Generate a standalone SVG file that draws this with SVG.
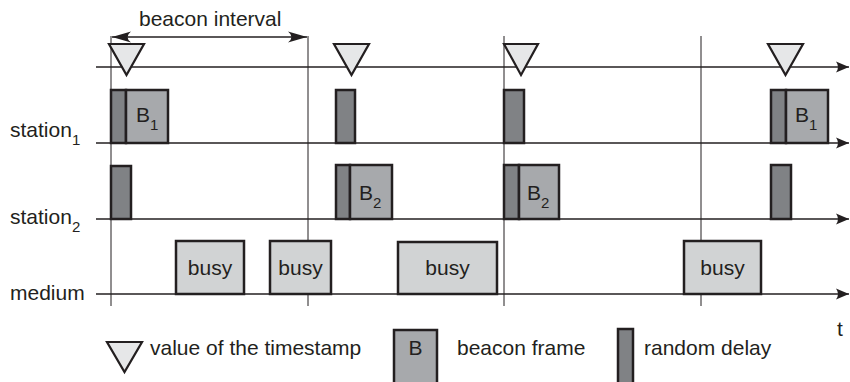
<svg xmlns="http://www.w3.org/2000/svg" width="850" height="382" viewBox="0 0 850 382">
<defs>
<style>
text{font-family:"Liberation Sans",Arial,sans-serif;font-size:21px;fill:#231f20}
.sub{font-size:15px}
.axis{stroke:#231f20;stroke-width:1.4;fill:none}
.vline{stroke:#231f20;stroke-width:1;fill:none}
.delay{fill:#808285;stroke:#231f20;stroke-width:2.5}
.beacon{fill:#a7a9ac;stroke:#231f20;stroke-width:2.5}
.busy{fill:#d1d3d4;stroke:#231f20;stroke-width:2.5}
.ts{fill:#e6e7e8;stroke:#231f20;stroke-width:2.2;stroke-linejoin:miter}
</style>
<marker id="ah" viewBox="0 0 14 12" refX="13" refY="6" markerWidth="14" markerHeight="12" markerUnits="userSpaceOnUse" orient="auto-start-reverse">
<path d="M0,0.5 L13,6 L0,11.5 Q4,6 0,0.5 Z" fill="#231f20"/>
</marker>
<marker id="ah2" viewBox="0 0 20 12" refX="19" refY="6" markerWidth="20" markerHeight="12" markerUnits="userSpaceOnUse" orient="auto-start-reverse">
<path d="M0,0.5 L19,6 L0,11.5 Q7,6 0,0.5 Z" fill="#231f20"/>
</marker>
</defs>

<g id="grid">
<line class="vline" x1="111" y1="36" x2="111" y2="306"/>
<line class="vline" x1="308" y1="36" x2="308" y2="306"/>
<line class="vline" x1="504" y1="36" x2="504" y2="306"/>
<line class="vline" x1="701" y1="36" x2="701" y2="306"/>
</g>

<g id="connectors">
<line class="axis" x1="96" y1="67" x2="849" y2="67" marker-end="url(#ah)"/>
<line class="axis" x1="96" y1="143" x2="849" y2="143" marker-end="url(#ah)"/>
<line class="axis" x1="96" y1="219" x2="849" y2="219" marker-end="url(#ah)"/>
<line class="axis" x1="96" y1="294" x2="849" y2="294" marker-end="url(#ah)"/>
<line class="axis" x1="112" y1="37" x2="307" y2="37" marker-start="url(#ah2)" marker-end="url(#ah2)"/>
</g>

<g id="labels">
<text x="139" y="26">beacon interval</text>
<text x="10" y="137">station<tspan class="sub" dy="8">1</tspan></text>
<text x="10" y="224">station<tspan class="sub" dy="8">2</tspan></text>
<text x="10" y="300">medium</text>
<text x="837" y="336">t</text>
</g>

<g id="timestamps">
<polygon class="ts" points="109,44 144,44 126.5,75"/>
<polygon class="ts" points="334,44 369,44 351.5,75"/>
<polygon class="ts" points="504,44 538,44 521,75"/>
<polygon class="ts" points="768,44 803,44 785.5,75"/>
</g>

<g id="station1">
<rect class="delay" x="111" y="90" width="15" height="53"/>
<rect class="beacon" x="126" y="90" width="42" height="53"/>
<text x="136" y="122">B<tspan class="sub" dy="8">1</tspan></text>
<rect class="delay" x="336" y="90" width="19" height="53"/>
<rect class="delay" x="504" y="90" width="20" height="53"/>
<rect class="delay" x="771" y="90" width="15" height="53"/>
<rect class="beacon" x="786" y="90" width="42" height="53"/>
<text x="795" y="122">B<tspan class="sub" dy="8">1</tspan></text>
</g>

<g id="station2">
<rect class="delay" x="111" y="166" width="20" height="53"/>
<rect class="delay" x="336" y="165" width="14" height="54"/>
<rect class="beacon" x="350" y="165" width="42" height="54"/>
<text x="359" y="200">B<tspan class="sub" dy="8">2</tspan></text>
<rect class="delay" x="504" y="165" width="15" height="54"/>
<rect class="beacon" x="519" y="165" width="40" height="54"/>
<text x="527" y="200">B<tspan class="sub" dy="8">2</tspan></text>
<rect class="delay" x="771" y="165" width="20" height="54"/>
</g>

<g id="medium">
<rect class="busy" x="176" y="241" width="68" height="53"/>
<text x="210" y="275" text-anchor="middle">busy</text>
<rect class="busy" x="270" y="241" width="61" height="53"/>
<text x="300.5" y="275" text-anchor="middle">busy</text>
<rect class="busy" x="398" y="242" width="99" height="52"/>
<text x="447.5" y="275" text-anchor="middle">busy</text>
<rect class="busy" x="684" y="241" width="77" height="53"/>
<text x="722.5" y="275" text-anchor="middle">busy</text>
</g>

<g id="legend">
<polygon class="ts" points="107,342 142,342 124.5,372"/>
<text x="150" y="355">value of the timestamp</text>
<rect class="beacon" x="394" y="330" width="43" height="60"/>
<text x="415.5" y="355" text-anchor="middle">B</text>
<text x="457" y="355">beacon frame</text>
<rect class="delay" x="618" y="329" width="15" height="60"/>
<text x="644" y="355">random delay</text>
</g>
</svg>
